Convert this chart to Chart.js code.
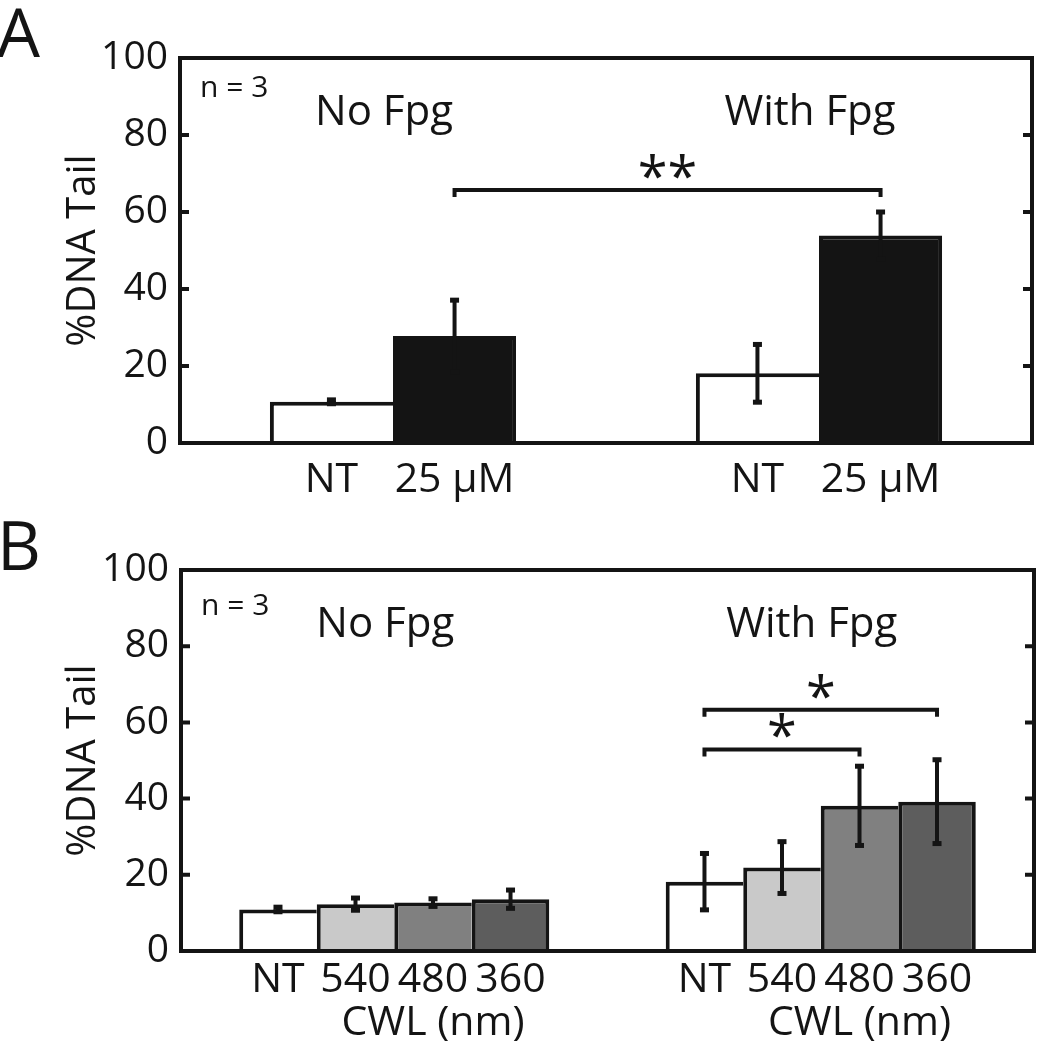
<!DOCTYPE html>
<html>
<head>
<meta charset="utf-8">
<script src="https://cdn.jsdelivr.net/npm/chart.js@4.4.1/dist/chart.umd.min.js"></script>
<style>
  html, body { margin: 0; padding: 0; background: #fff; }
  canvas { position: absolute; left: 0; }
  #chartA { top: 0; }
  #chartB { top: 520px; }
</style>
</head>
<body>
<canvas id="chartA" width="1038" height="520"></canvas>
<canvas id="chartB" width="1038" height="530"></canvas>
<script>
// groups on the x axis and y ticks (shared by both panels)
const groups = ["No Fpg", "With Fpg"];
const yTicks = [0, 20, 40, 60, 80, 100];

// Panel A: NT vs 25 µM
const treatmentsA = ["NT", "25 µM"];
const meanA_NT = [10.7, 18.1];
const meanA_25 = [27.8, 53.9];
const errA_NT = [0.5, 7.5];
const errA_25 = [9.3, 6.1];

// Panel B: NT and three CWL light sources (nm)
const treatmentsB = ["NT", "540", "480", "360"];
const meanB_NT = [10.9, 18.2];
const meanB_540 = [12.3, 21.9];
const meanB_480 = [12.7, 38.1];
const meanB_360 = [13.6, 39.2];
const errB_NT = [0.6, 7.4];
const errB_540 = [1.6, 6.8];
const errB_480 = [1.0, 10.4];
const errB_360 = [2.4, 11.0];

// significance brackets: [dataset, group] at each end, height, label
const sigA = [{ from: [1, 0], to: [1, 1], y: 65.7, label: "**" }];
const sigB = [
  { from: [0, 1], to: [3, 1], y: 63.3, label: "*" },
  { from: [0, 1], to: [2, 1], y: 52.9, label: "*" }
];

const FONT = "'Open Sans', 'Noto Sans', sans-serif";
const INK = "#141414";

const panelDecor = {
  id: "panelDecor",
  afterDatasetsDraw(chart, args, opts) {
    const ctx = chart.ctx;
    const area = chart.chartArea;
    const xs = chart.scales.x, ys = chart.scales.y;
    ctx.save();
    ctx.strokeStyle = INK;
    ctx.fillStyle = INK;

    // error bars
    chart.data.datasets.forEach((ds, di) => {
      chart.getDatasetMeta(di).data.forEach((bar, i) => {
        const v = ds.data[i], e = ds.errors[i];
        const yt = ys.getPixelForValue(v + e), yb = ys.getPixelForValue(v - e);
        ctx.lineWidth = 4;
        ctx.beginPath();
        ctx.moveTo(bar.x, yt); ctx.lineTo(bar.x, yb);
        ctx.stroke();
        ctx.fillRect(bar.x - 4.5, yt - 2.5, 9, 5);
        ctx.fillRect(bar.x - 4.5, yb - 2.5, 9, 5);
      });
    });

    // frame + inward ticks on both sides
    ctx.lineWidth = 4;
    ctx.strokeRect(area.left, area.top, area.right - area.left, area.bottom - area.top);
    yTicks.forEach(t => {
      if (t === 0 || t === 100) return;
      const py = ys.getPixelForValue(t);
      ctx.beginPath();
      ctx.moveTo(area.left, py); ctx.lineTo(area.left + 9, py);
      ctx.moveTo(area.right, py); ctx.lineTo(area.right - 9, py);
      ctx.stroke();
    });

    // significance brackets
    opts.brackets.forEach(b => {
      const x1 = chart.getDatasetMeta(b.from[0]).data[b.from[1]].x;
      const x2 = chart.getDatasetMeta(b.to[0]).data[b.to[1]].x;
      const py = ys.getPixelForValue(b.y);
      ctx.lineWidth = 4;
      ctx.beginPath();
      ctx.moveTo(x1, py + 7); ctx.lineTo(x1, py); ctx.lineTo(x2, py); ctx.lineTo(x2, py + 7);
      ctx.stroke();
      ctx.font = "54px " + FONT;
      ctx.textAlign = "center";
      ctx.textBaseline = "alphabetic";
      ctx.fillText(b.label, (x1 + x2) / 2, py + 6);
    });

    // bar labels under the axis
    ctx.font = "41px " + FONT;
    ctx.textAlign = "center";
    chart.data.datasets.forEach((ds, di) => {
      chart.getDatasetMeta(di).data.forEach(bar => {
        ctx.fillText(ds.label, bar.x, area.bottom + opts.labelDy);
      });
    });
    if (opts.subLabel) {
      chart.getDatasetMeta(opts.subLabel.dataset).data.forEach(bar => {
        ctx.fillText(opts.subLabel.text, bar.x, area.bottom + opts.subLabel.dy);
      });
    }

    // group titles
    ctx.font = "42px " + FONT;
    groups.forEach((g, i) => ctx.fillText(g, xs.getPixelForValue(i) - 9, area.top + 67));

    // n = 3
    ctx.font = "30px " + FONT;
    ctx.textAlign = "left";
    ctx.fillText("n = 3", area.left + 20, area.top + opts.nDy);

    // panel letter
    ctx.font = "68px " + FONT;
    ctx.fillText(opts.letter, -3, opts.letterY);
    ctx.restore();
  }
};

function makePanel(id, labels, means, errs, colors, catPct, pad, decor) {
  const last = labels.length - 1;
  const datasets = labels.map((lab, i) => ({
    label: lab,
    data: means[i],
    errors: errs[i],
    backgroundColor: colors[i],
    borderColor: INK,
    // shared edges are drawn once: only the last bar of a group gets a right edge
    borderWidth: { top: 4, left: 4, right: i === last ? 4 : 0, bottom: 0 },
    borderSkipped: false,
    categoryPercentage: catPct,
    barPercentage: 1
  }));
  return new Chart(document.getElementById(id), {
    type: "bar",
    data: { labels: groups, datasets: datasets },
    plugins: [panelDecor],
    options: {
      responsive: false,
      animation: false,
      layout: { padding: { top: pad.top, right: pad.right, bottom: pad.bottom, left: 0 } },
      plugins: {
        legend: { display: false },
        tooltip: { enabled: false },
        panelDecor: decor
      },
      scales: {
        x: { display: false },
        y: {
          min: 0,
          max: 100,
          afterBuildTicks: s => { s.ticks = yTicks.map(v => ({ value: v })); },
          ticks: { font: { family: FONT, size: 39 }, color: INK, padding: 12 },
          grid: { display: false, drawTicks: false },
          border: { display: false },
          title: {
            display: true,
            text: "%DNA Tail",
            font: { family: FONT, size: 40 },
            color: INK,
            align: "center",
            padding: { top: 60, bottom: 0 }
          },
          afterFit: s => { s.width = pad.left; }
        }
      }
    }
  });
}

makePanel("chartA", treatmentsA,
  [meanA_NT, meanA_25], [errA_NT, errA_25],
  ["#ffffff", INK], 0.578,
  { top: 58, right: 6, bottom: 77, left: 180 },
  { brackets: sigA, labelDy: 49, nDy: 39, letter: "A", letterY: 57 });

makePanel("chartB", treatmentsB,
  [meanB_NT, meanB_540, meanB_480, meanB_360],
  [errB_NT, errB_540, errB_480, errB_360],
  ["#ffffff", "#c9c9c9", "#808080", "#5d5d5d"], 0.727,
  { top: 50, right: 4, bottom: 99, left: 181 },
  { brackets: sigB, labelDy: 41, nDy: 45, letter: "B", letterY: 50,
    subLabel: { dataset: 2, text: "CWL (nm)", dy: 84 } });
</script>
</body>
</html>
